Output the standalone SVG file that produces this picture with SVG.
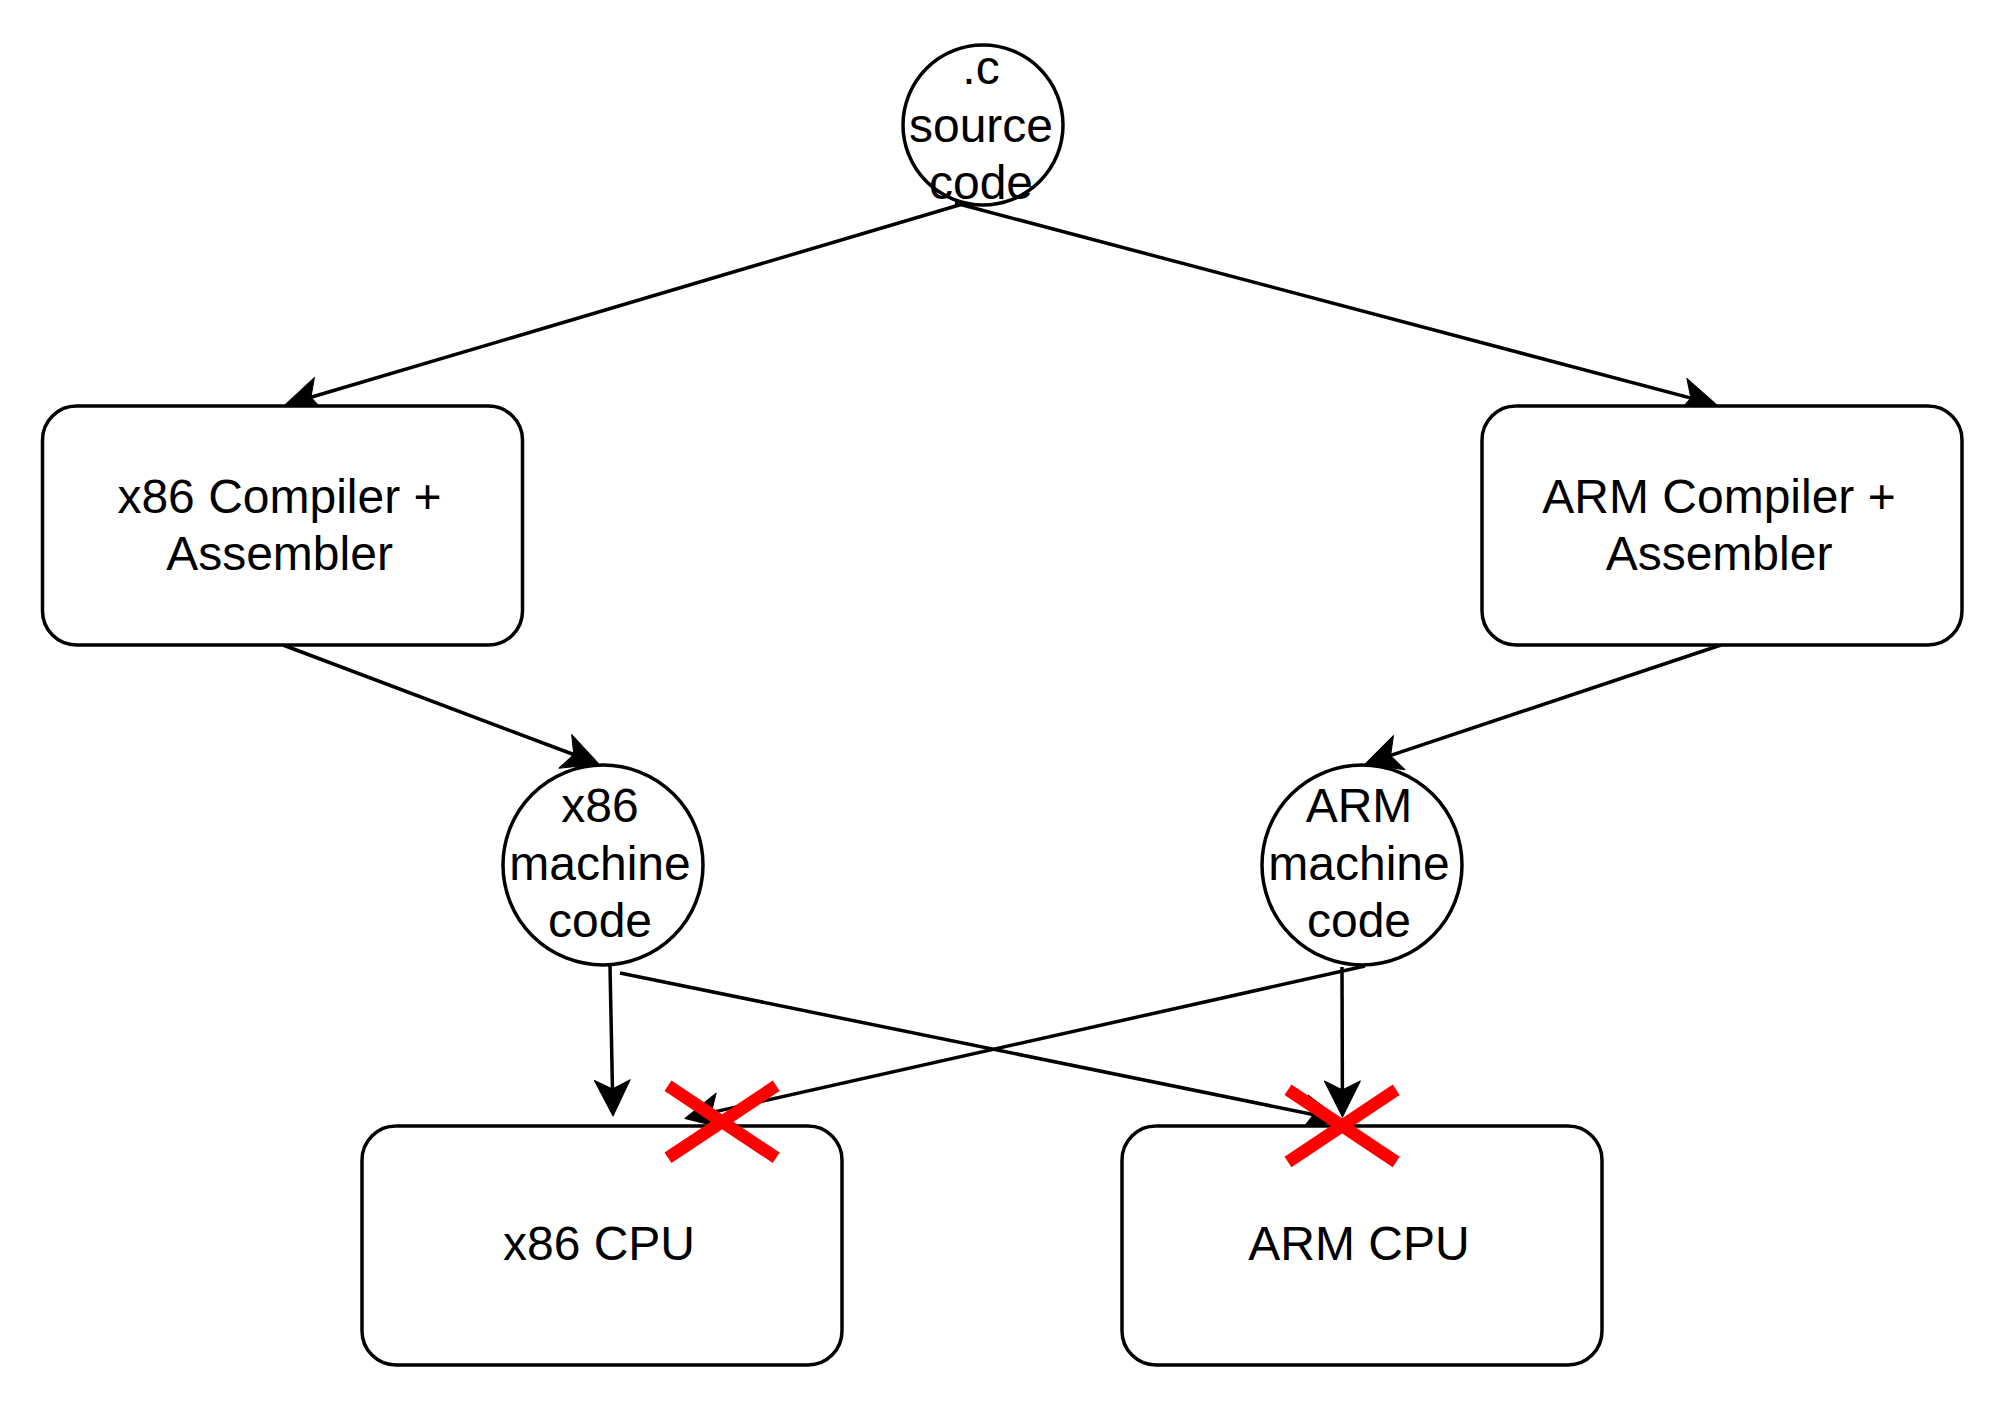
<svg xmlns="http://www.w3.org/2000/svg" width="2004" height="1412" viewBox="0 0 2004 1412">
  <style>
    .node { fill: #ffffff; stroke: #000000; stroke-width: 3.5; }
    .label { font-family: "Liberation Sans", Arial, Helvetica, sans-serif; font-size: 48px; fill: #000000; text-anchor: middle; }
    .edge { fill: none; stroke: #000000; stroke-width: 3.5; marker-end: url(#arrow); }
    .cross { stroke: #ff0000; stroke-width: 12.5; stroke-linecap: butt; fill: none; }
  </style>
  <defs>
    <marker id="arrow" markerUnits="userSpaceOnUse" viewBox="-20 -20 42 40" markerWidth="42" markerHeight="40" refX="0" refY="0" orient="auto" overflow="visible">
      <path d="M20,0 L-16,-18 L-7,0 L-16,18 Z" fill="#000000" stroke="#000000" stroke-width="1" stroke-linejoin="round"/>
    </marker>
  </defs>
  <rect width="2004" height="1412" fill="#ffffff"/>

  <g id="connectors">
    <line id="e-src-x86comp" class="edge" x1="966" y1="203" x2="304.2" y2="399.3"/>
    <line id="e-src-armcomp" class="edge" x1="955" y1="203" x2="1697.7" y2="399.9"/>
    <line id="e-x86comp-x86mc" class="edge" x1="283" y1="645" x2="580.3" y2="757"/>
    <line id="e-armcomp-armmc" class="edge" x1="1721" y1="645" x2="1384" y2="757.7"/>
    <line id="e-x86mc-x86cpu" class="edge" x1="610" y1="966" x2="612.6" y2="1096"/>
    <line id="e-x86mc-armcpu" class="edge" x1="620" y1="973" x2="1320.4" y2="1116"/>
    <line id="e-armmc-x86cpu" class="edge" x1="1365" y1="966" x2="704.5" y2="1114.1"/>
    <line id="e-armmc-armcpu" class="edge" x1="1342" y1="967" x2="1342.4" y2="1097"/>
  </g>

  <g id="source">
    <circle class="node" cx="983" cy="125" r="80"/>
    <text class="label" x="981" y="84">.c</text>
    <text class="label" x="981" y="141.6">source</text>
    <text class="label" x="981" y="199">code</text>
  </g>

  <g id="x86-compiler">
    <rect class="node" x="42.5" y="406" width="480" height="239" rx="34" ry="34"/>
    <text class="label" x="279.5" y="512.5">x86 Compiler +</text>
    <text class="label" x="279.5" y="570">Assembler</text>
  </g>

  <g id="arm-compiler">
    <rect class="node" x="1482" y="406" width="480" height="239" rx="34" ry="34"/>
    <text class="label" x="1719" y="512.5">ARM Compiler +</text>
    <text class="label" x="1719" y="570">Assembler</text>
  </g>

  <g id="x86-machine-code">
    <circle class="node" cx="603" cy="865" r="100"/>
    <text class="label" x="600" y="822">x86</text>
    <text class="label" x="600" y="879.6">machine</text>
    <text class="label" x="600" y="937.2">code</text>
  </g>

  <g id="arm-machine-code">
    <circle class="node" cx="1362" cy="865" r="100"/>
    <text class="label" x="1359" y="822">ARM</text>
    <text class="label" x="1359" y="879.6">machine</text>
    <text class="label" x="1359" y="937.2">code</text>
  </g>

  <g id="x86-cpu">
    <rect class="node" x="362" y="1126" width="480" height="239" rx="34" ry="34"/>
    <text class="label" x="599" y="1260">x86 CPU</text>
  </g>

  <g id="arm-cpu">
    <rect class="node" x="1122" y="1126" width="480" height="239" rx="34" ry="34"/>
    <text class="label" x="1359" y="1260">ARM CPU</text>
  </g>

  <g id="x86-cpu-cross">
    <line class="cross" x1="668" y1="1085.8" x2="776.2" y2="1157.8"/>
    <line class="cross" x1="668" y1="1157.8" x2="776.2" y2="1085.8"/>
  </g>

  <g id="arm-cpu-cross">
    <line class="cross" x1="1288" y1="1089.7" x2="1396.2" y2="1162"/>
    <line class="cross" x1="1288" y1="1162" x2="1396.2" y2="1089.7"/>
  </g>
</svg>
